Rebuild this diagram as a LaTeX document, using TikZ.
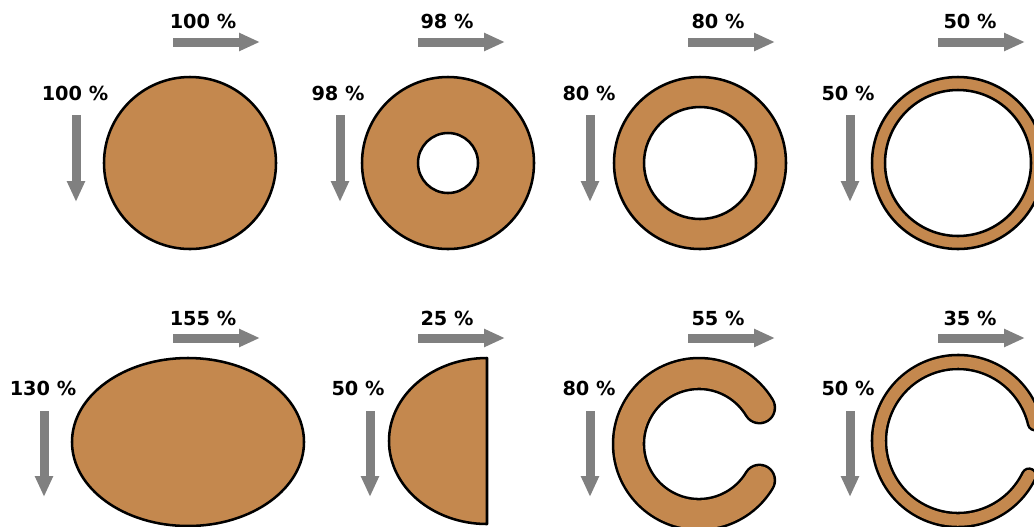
\documentclass[tikz,border=0pt]{standalone}
\usepackage{fontspec}
\setmainfont{DejaVu Sans}
\usetikzlibrary{arrows.meta}
\definecolor{copper}{HTML}{C4884E}
\definecolor{arrowgray}{HTML}{808080}
\begin{document}
\begin{tikzpicture}[x=0.75pt,y=-0.75pt,
  lbl/.style={font=\bfseries\fontsize{14.5}{17}\selectfont, inner sep=0pt},
  garrow/.style={draw=arrowgray, line width=6.75pt, -{Triangle[length=15.75pt,width=12.75pt]}},
  cushape/.style={fill=copper, draw=black, line width=1.9pt},
  cblack/.style={draw=black, line cap=round},
  cfill/.style={draw=copper, line cap=round}]
\useasboundingbox (0,0) rectangle (1034,526);
\clip (0,0) rectangle (1034,526);

% ---------- top row ----------
% 1: full disc
\node[lbl] (t1h) at (203,21) {100 \%};
\node[lbl] (t1v) at (75,93) {100 \%};
\coordinate (a1s) at (173,42); \coordinate (a1e) at (260,42);
\coordinate (b1s) at (76,115); \coordinate (b1e) at (76,202);
\draw[garrow] (a1s) -- (a1e);
\draw[garrow] (b1s) -- (b1e);
\path[cushape] (190,163) circle[radius=86];

% 2: ring 98 %
\node[lbl] (t2h) at (447,21) {98 \%};
\node[lbl] (t2v) at (338,93) {98 \%};
\coordinate (a2s) at (418,42); \coordinate (a2e) at (505,42);
\coordinate (b2s) at (340,115); \coordinate (b2e) at (340,202);
\draw[garrow] (a2s) -- (a2e);
\draw[garrow] (b2s) -- (b2e);
\path[cushape, even odd rule] (448,163) circle[radius=86] (448,163) circle[radius=30];

% 3: ring 80 %
\node[lbl] (t3h) at (718,21) {80 \%};
\node[lbl] (t3v) at (589,93) {80 \%};
\coordinate (a3s) at (688,42); \coordinate (a3e) at (775,42);
\coordinate (b3s) at (590,115); \coordinate (b3e) at (590,202);
\draw[garrow] (a3s) -- (a3e);
\draw[garrow] (b3s) -- (b3e);
\path[cushape, even odd rule] (700,163) circle[radius=86] (700,163) circle[radius=56];

% 4: ring 50 %
\node[lbl] (t4h) at (970,21) {50 \%};
\node[lbl] (t4v) at (848,93) {50 \%};
\coordinate (a4s) at (938,42); \coordinate (a4e) at (1025,42);
\coordinate (b4s) at (850,115); \coordinate (b4e) at (850,202);
\draw[garrow] (a4s) -- (a4e);
\draw[garrow] (b4s) -- (b4e);
\path[cushape, even odd rule] (958,163) circle[radius=86] (958,163) circle[radius=73];

% ---------- bottom row ----------
% 5: ellipse
\node[lbl] (t5h) at (203,318) {155 \%};
\node[lbl] (t5v) at (43,388) {130 \%};
\coordinate (a5s) at (173,338); \coordinate (a5e) at (260,338);
\coordinate (b5s) at (44,411); \coordinate (b5e) at (44,497);
\draw[garrow] (a5s) -- (a5e);
\draw[garrow] (b5s) -- (b5e);
\path[cushape] (188,442) ellipse[x radius=116, y radius=84];

% 6: half ellipse
\node[lbl] (t6h) at (447,318) {25 \%};
\node[lbl] (t6v) at (358,388) {50 \%};
\coordinate (a6s) at (418,338); \coordinate (a6e) at (505,338);
\coordinate (b6s) at (370,411); \coordinate (b6e) at (370,497);
\draw[garrow] (a6s) -- (a6e);
\draw[garrow] (b6s) -- (b6e);
\path[cushape, line join=round] (487,358) arc[start angle=270, end angle=90, x radius=98, y radius=83] -- cycle;

% 7: C shape thick
\node[lbl] (t7h) at (718,318) {55 \%};
\node[lbl] (t7v) at (589,388) {80 \%};
\coordinate (a7s) at (688,338); \coordinate (a7e) at (775,338);
\coordinate (b7s) at (590,411); \coordinate (b7e) at (590,497);
\draw[garrow] (a7s) -- (a7e);
\draw[garrow] (b7s) -- (b7e);
\draw[cblack, line width=25.1pt] (699,444) ++(31:70.5) arc[start angle=31, end angle=329, radius=70.5];
\draw[cfill, line width=21.3pt] (699,444) ++(31:70.5) arc[start angle=31, end angle=329, radius=70.5];

% 8: C shape thin
\node[lbl] (t8h) at (970,318) {35 \%};
\node[lbl] (t8v) at (848,388) {50 \%};
\coordinate (a8s) at (938,338); \coordinate (a8e) at (1025,338);
\coordinate (b8s) at (850,411); \coordinate (b8e) at (850,497);
\draw[garrow] (a8s) -- (a8e);
\draw[garrow] (b8s) -- (b8e);
\draw[cblack, line width=12.4pt] (958,441) ++(26:79) arc[start angle=26, end angle=347, radius=79];
\draw[cfill, line width=8.6pt] (958,441) ++(26:79) arc[start angle=26, end angle=347, radius=79];
\end{tikzpicture}
\end{document}
